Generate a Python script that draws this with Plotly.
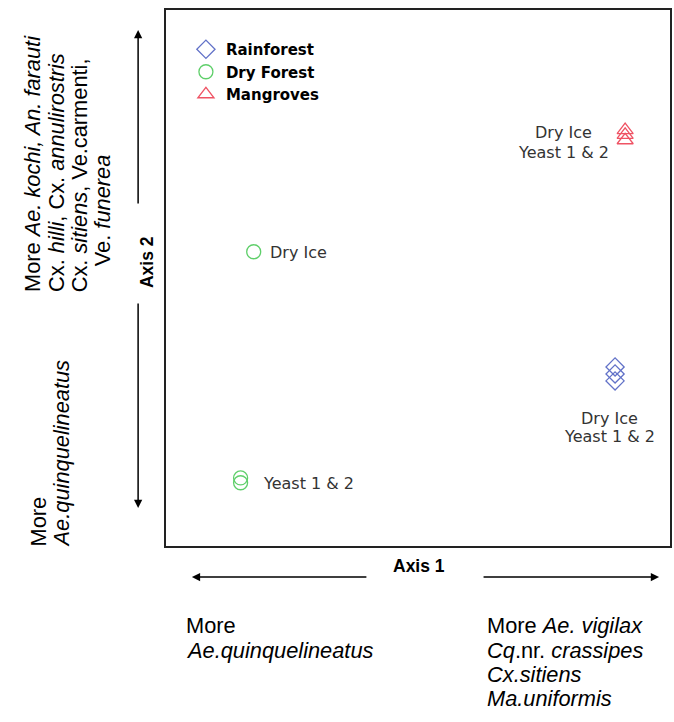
import plotly.graph_objects as go

# ---------------- data (ordination scores) ----------------
series_names = ["Rainforest", "Dry Forest", "Mangroves"]
rain_x = [89.1, 89.1, 89.1]
rain_y = [33.4, 32.1, 30.8]
dry_x = [17.4, 14.8, 14.8]
dry_y = [54.9, 12.7, 11.8]
mang_x = [91.1, 91.1, 91.1]
mang_y = [77.6, 76.7, 75.7]

colors = {"Rainforest": "#6272c8", "Dry Forest": "#5fcf6a", "Mangroves": "#ef5364"}
symbols = {"Rainforest": "diamond-open", "Dry Forest": "circle-open", "Mangroves": "triangle-up-open"}

W, H = 674, 722
L, R, T, B = 166, 672, 10, 546  # plot area in pixels


def px(x):
    return (x - L) / (R - L)


def py(y):
    return (B - y) / (B - T)


fig = go.Figure()
for name, xs, ys in [("Rainforest", rain_x, rain_y), ("Dry Forest", dry_x, dry_y), ("Mangroves", mang_x, mang_y)]:
    fig.add_trace(go.Scatter(
        x=xs, y=ys, mode="markers", name=name,
        marker=dict(symbol=symbols[name], size=14, color=colors[name], line=dict(width=1.3, color=colors[name])),
    ))

ann = []
lab_font = dict(family="DejaVu Sans", size=16, color="#333333")
# point labels
point_labels = [
    ("Dry Ice", 268, 252, "left"),
    ("Yeast 1 & 2", 261, 484, "left"),
    ("Dry Ice", 565, 132, "center"),
    ("Yeast 1 & 2", 565, 152, "center"),
    ("Dry Ice", 611, 418, "center"),
    ("Yeast 1 & 2", 611, 437, "center"),
]
for t, xx, yy, anc in point_labels:
    ann.append(dict(x=px(xx), y=py(yy), xref="paper", yref="paper", text=t, showarrow=False,
                    xanchor=anc, yanchor="middle", font=lab_font))

ax_font = dict(family="Liberation Sans", size=17.5, color="black", weight="bold")
ann.append(dict(x=px(420), y=py(566), xref="paper", yref="paper", text="Axis 1", showarrow=False,
                xanchor="center", yanchor="middle", font=ax_font))
ann.append(dict(x=px(147), y=py(262), xref="paper", yref="paper", text="Axis 2", showarrow=False,
                textangle=-90, xanchor="center", yanchor="middle", font=ax_font))

# arrows (head position, tail offset in px)
arrow_style = dict(showarrow=True, arrowhead=2, arrowsize=1.1, arrowwidth=1.5, arrowcolor="black", text="",
                   xref="paper", yref="paper")
ann.append(dict(x=px(192), y=py(577), ax=368 - 192, ay=0, **arrow_style))
ann.append(dict(x=px(661), y=py(577), ax=484 - 661, ay=0, **arrow_style))
ann.append(dict(x=px(138), y=py(30), ax=0, ay=205 - 30, **arrow_style))
ann.append(dict(x=px(138), y=py(508), ax=0, ay=302 - 508, **arrow_style))

txt_font = dict(family="Liberation Sans", size=21.8, color="black")
bottom_left = ["More", "<i>Ae.quinquelineatus</i>"]
bottom_right = ["More <i>Ae. vigilax</i>", "<i>Cq</i>.nr. <i>crassipes</i>", "<i>Cx.sitiens</i>", "<i>Ma.uniformis</i>"]
line_y = [625, 650, 674, 698]
for t, yy in zip(bottom_left, line_y):
    ann.append(dict(x=px(184), y=py(yy), xref="paper", yref="paper", text=t, showarrow=False,
                    xanchor="left", yanchor="middle", font=txt_font))
for t, yy in zip(bottom_right, line_y):
    ann.append(dict(x=px(486), y=py(yy), xref="paper", yref="paper", text=t, showarrow=False,
                    xanchor="left", yanchor="middle", font=txt_font))

left_top = ["More <i>Ae. kochi, An. farauti</i>", "Cx. <i>hilli</i>, Cx. <i>annulirostris</i>",
            "Cx. <i>sitiens</i>, Ve.carmenti,", "Ve. <i>funerea</i>"]
left_top_x = [32, 56, 79, 102]
left_top_bottom = [294, 294, 294, 268]
for t, xx, yb in zip(left_top, left_top_x, left_top_bottom):
    ann.append(dict(x=px(xx), y=py(yb), xref="paper", yref="paper", text=t, showarrow=False, textangle=-90,
                    xanchor="center", yanchor="bottom", font=txt_font))
left_bot = ["More", "<i>Ae.quinquelineatus</i>"]
left_bot_x = [37, 61]
for t, xx in zip(left_bot, left_bot_x):
    ann.append(dict(x=px(xx), y=py(549), xref="paper", yref="paper", text=t, showarrow=False, textangle=-90,
                    xanchor="center", yanchor="bottom", font=txt_font))

fig.update_layout(
    width=W, height=H,
    margin=dict(l=L, r=W - R, t=T, b=H - B, pad=0),
    paper_bgcolor="white", plot_bgcolor="white",
    showlegend=True,
    legend=dict(x=px(186), y=py(33), xanchor="left", yanchor="top",
                font=dict(family="DejaVu Sans", size=15, color="black", weight="bold"),
                bgcolor="rgba(0,0,0,0)", itemwidth=30, tracegroupgap=0),
    xaxis=dict(range=[0, 100], showgrid=False, zeroline=False, showticklabels=False, ticks="",
               showline=True, mirror=True, linecolor="#222222", linewidth=1.5),
    yaxis=dict(range=[0, 100], showgrid=False, zeroline=False, showticklabels=False, ticks="",
               showline=True, mirror=True, linecolor="#222222", linewidth=1.5),
    annotations=ann,
)

fig.write_html("out.html")
